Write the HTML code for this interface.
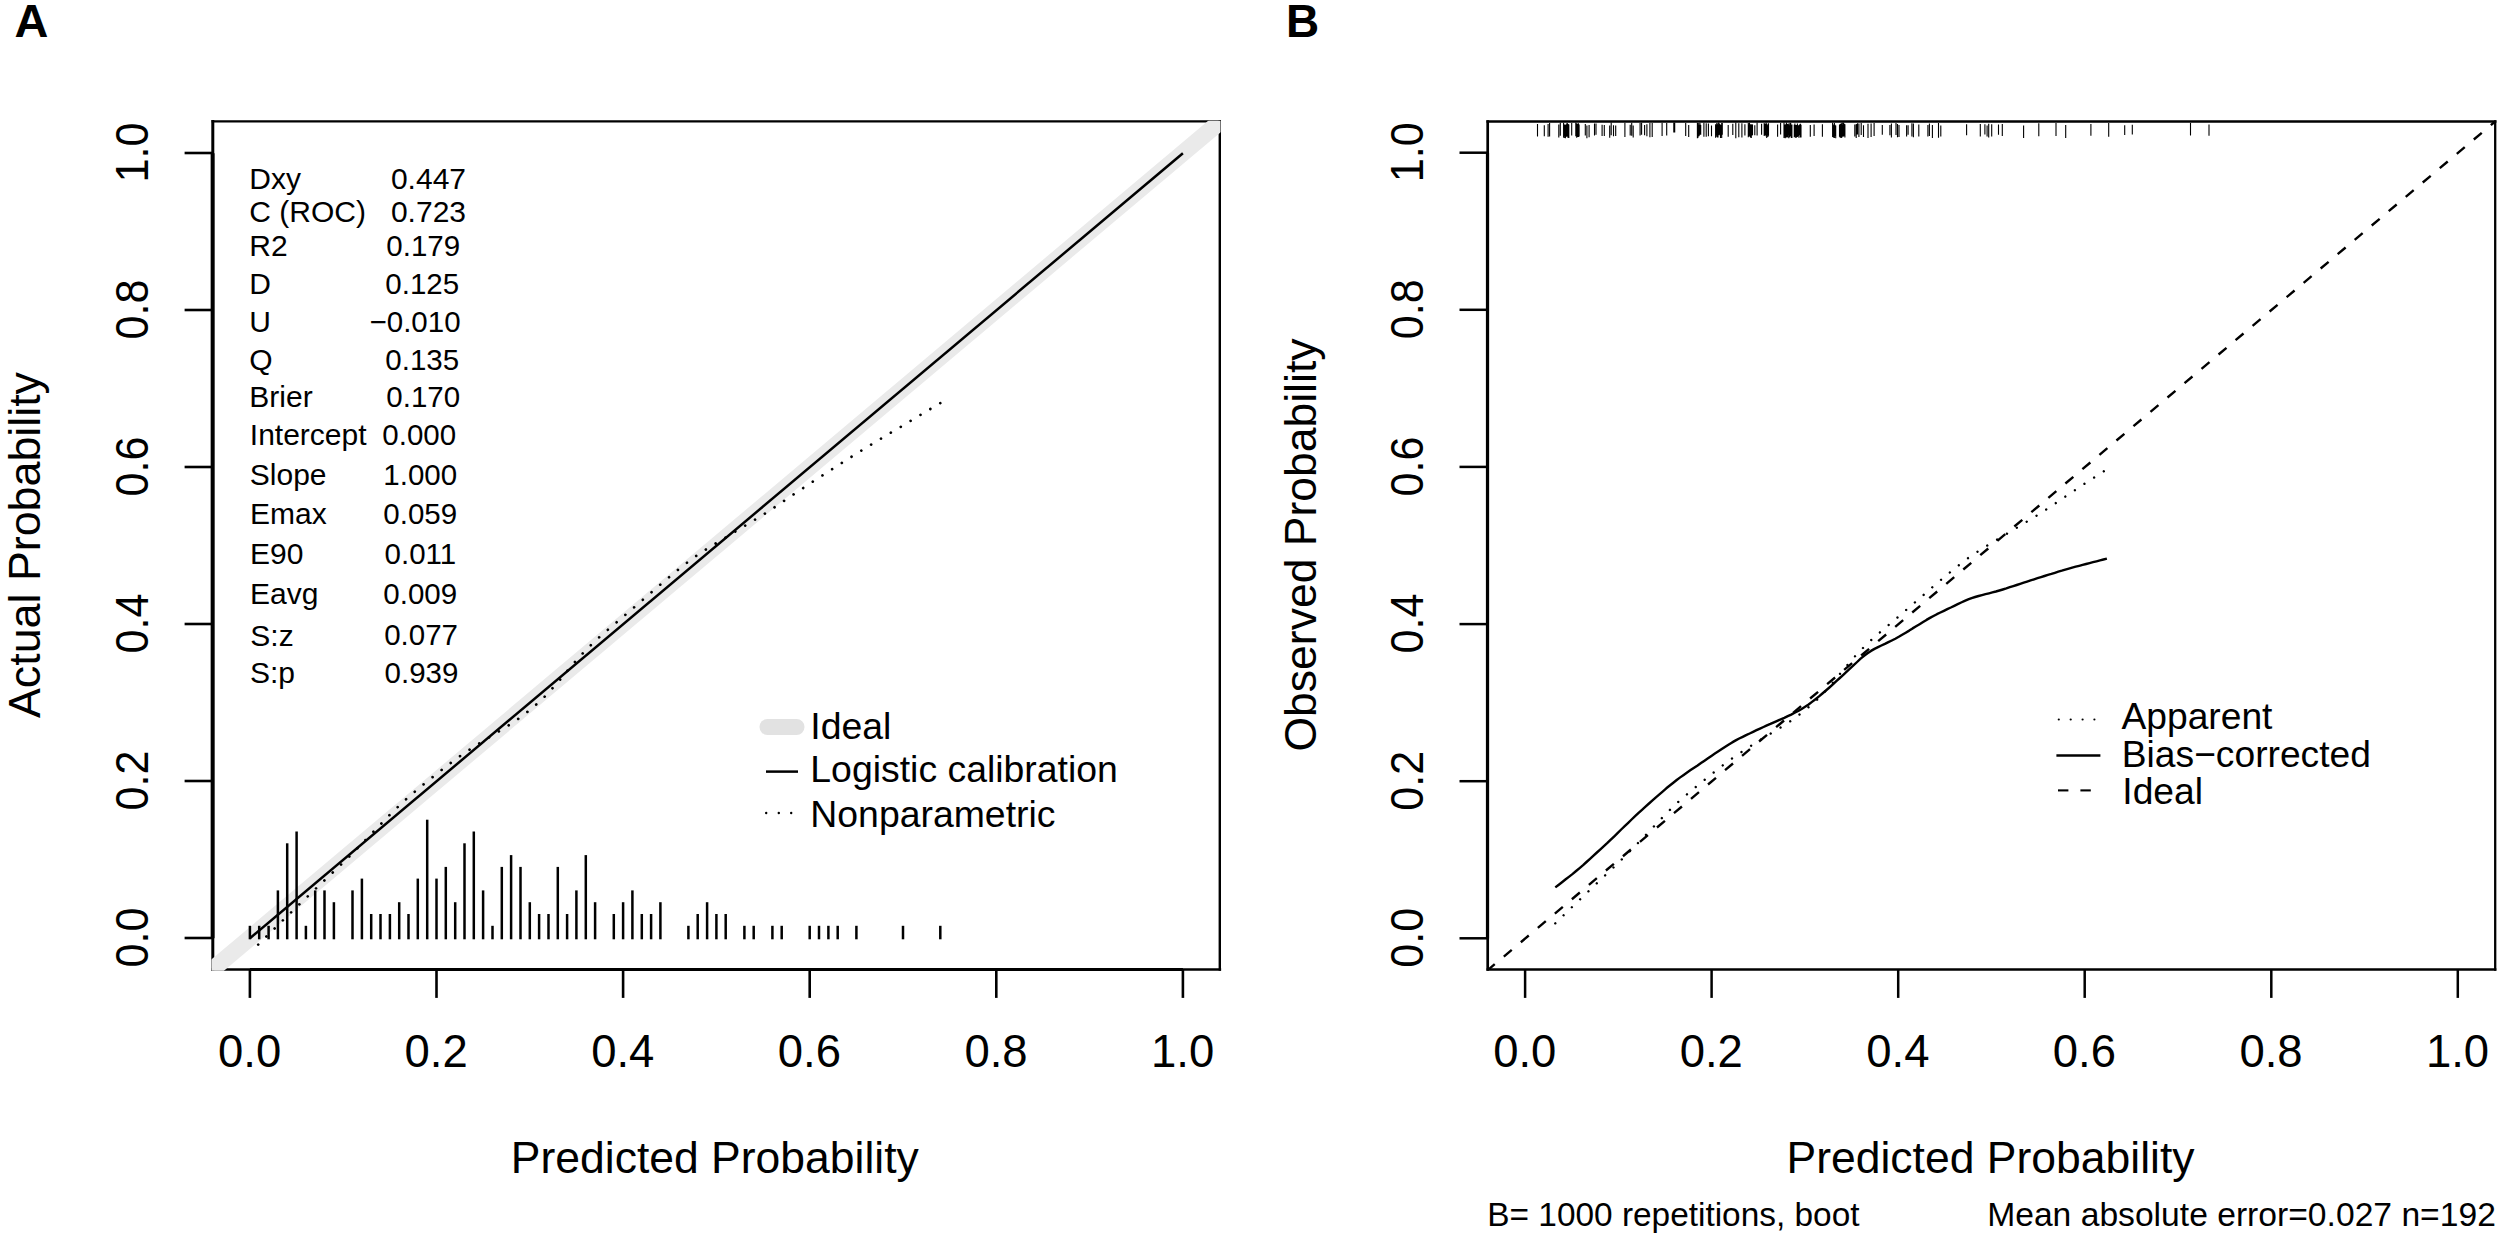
<!DOCTYPE html>
<html lang="en"><head><meta charset="utf-8"><title>Calibration curves</title>
<style>html,body{margin:0;padding:0;background:#fff}svg{display:block}</style></head>
<body>
<svg width="2500" height="1238" viewBox="0 0 2500 1238" font-family='"Liberation Sans", sans-serif' fill="#000">
<rect width="2500" height="1238" fill="#fff"/>
<clipPath id="ca"><rect x="211.5" y="120.7" width="1009.0" height="850.1"/></clipPath>
<line x1="212.8" y1="121.4" x2="1219.8" y2="121.4" stroke="#000" stroke-width="2.4" stroke-linecap="square"/>
<line x1="1219.8" y1="121.4" x2="1219.8" y2="969.5" stroke="#000" stroke-width="2.4" stroke-linecap="square"/>
<line x1="212.8" y1="121.4" x2="212.8" y2="969.5" stroke="#000" stroke-width="3.0" stroke-linecap="square"/>
<line x1="212.8" y1="969.5" x2="1219.8" y2="969.5" stroke="#000" stroke-width="2.7" stroke-linecap="square"/>
<line x1="249.9" y1="969.6" x2="1182.9" y2="969.6" stroke="#000" stroke-width="3.0" />
<line x1="212.6" y1="938.3" x2="212.6" y2="153.3" stroke="#000" stroke-width="3.9" />
<line x1="249.9" y1="969.5" x2="249.9" y2="997.9" stroke="#000" stroke-width="2.6" />
<line x1="184.6" y1="938.0" x2="212.8" y2="938.0" stroke="#000" stroke-width="2.6" />
<text x="249.6" y="1066.6" font-size="45.5" text-anchor="middle" font-weight="normal" textLength="63.2" lengthAdjust="spacingAndGlyphs" >0.0</text>
<text x="147.8" y="937.5" font-size="45.5" text-anchor="middle" font-weight="normal" transform="rotate(-90 147.8 937.5)" textLength="60.0" lengthAdjust="spacingAndGlyphs" >0.0</text>
<line x1="436.5" y1="969.5" x2="436.5" y2="997.9" stroke="#000" stroke-width="2.6" />
<line x1="184.6" y1="781.0" x2="212.8" y2="781.0" stroke="#000" stroke-width="2.6" />
<text x="436.2" y="1066.6" font-size="45.5" text-anchor="middle" font-weight="normal" textLength="63.2" lengthAdjust="spacingAndGlyphs" >0.2</text>
<text x="147.8" y="780.5" font-size="45.5" text-anchor="middle" font-weight="normal" transform="rotate(-90 147.8 780.5)" textLength="60.0" lengthAdjust="spacingAndGlyphs" >0.2</text>
<line x1="623.1" y1="969.5" x2="623.1" y2="997.9" stroke="#000" stroke-width="2.6" />
<line x1="184.6" y1="624.0" x2="212.8" y2="624.0" stroke="#000" stroke-width="2.6" />
<text x="622.8" y="1066.6" font-size="45.5" text-anchor="middle" font-weight="normal" textLength="63.2" lengthAdjust="spacingAndGlyphs" >0.4</text>
<text x="147.8" y="623.5" font-size="45.5" text-anchor="middle" font-weight="normal" transform="rotate(-90 147.8 623.5)" textLength="60.0" lengthAdjust="spacingAndGlyphs" >0.4</text>
<line x1="809.7" y1="969.5" x2="809.7" y2="997.9" stroke="#000" stroke-width="2.6" />
<line x1="184.6" y1="467.0" x2="212.8" y2="467.0" stroke="#000" stroke-width="2.6" />
<text x="809.4" y="1066.6" font-size="45.5" text-anchor="middle" font-weight="normal" textLength="63.2" lengthAdjust="spacingAndGlyphs" >0.6</text>
<text x="147.8" y="466.5" font-size="45.5" text-anchor="middle" font-weight="normal" transform="rotate(-90 147.8 466.5)" textLength="60.0" lengthAdjust="spacingAndGlyphs" >0.6</text>
<line x1="996.3" y1="969.5" x2="996.3" y2="997.9" stroke="#000" stroke-width="2.6" />
<line x1="184.6" y1="310.0" x2="212.8" y2="310.0" stroke="#000" stroke-width="2.6" />
<text x="996.0" y="1066.6" font-size="45.5" text-anchor="middle" font-weight="normal" textLength="63.2" lengthAdjust="spacingAndGlyphs" >0.8</text>
<text x="147.8" y="309.5" font-size="45.5" text-anchor="middle" font-weight="normal" transform="rotate(-90 147.8 309.5)" textLength="60.0" lengthAdjust="spacingAndGlyphs" >0.8</text>
<line x1="1182.9" y1="969.5" x2="1182.9" y2="997.9" stroke="#000" stroke-width="2.6" />
<line x1="184.6" y1="153.0" x2="212.8" y2="153.0" stroke="#000" stroke-width="2.6" />
<text x="1182.6" y="1066.6" font-size="45.5" text-anchor="middle" font-weight="normal" textLength="63.2" lengthAdjust="spacingAndGlyphs" >1.0</text>
<text x="147.8" y="152.5" font-size="45.5" text-anchor="middle" font-weight="normal" transform="rotate(-90 147.8 152.5)" textLength="60.0" lengthAdjust="spacingAndGlyphs" >1.0</text>
<g clip-path="url(#ca)">
<line x1="156.6" y1="1016.5" x2="1276.2" y2="74.5" stroke="#eaeaea" stroke-width="16.8" />
</g>
<line x1="249.9" y1="939.3" x2="249.9" y2="925.8" stroke="#000" stroke-width="2.5" />
<line x1="259.2" y1="939.3" x2="259.2" y2="925.8" stroke="#000" stroke-width="2.5" />
<line x1="268.6" y1="939.3" x2="268.6" y2="925.8" stroke="#000" stroke-width="2.5" />
<line x1="277.9" y1="939.3" x2="277.9" y2="890.4" stroke="#000" stroke-width="2.5" />
<line x1="287.2" y1="939.3" x2="287.2" y2="843.3" stroke="#000" stroke-width="2.5" />
<line x1="296.6" y1="939.3" x2="296.6" y2="831.5" stroke="#000" stroke-width="2.5" />
<line x1="305.9" y1="939.3" x2="305.9" y2="925.8" stroke="#000" stroke-width="2.5" />
<line x1="315.2" y1="939.3" x2="315.2" y2="890.4" stroke="#000" stroke-width="2.5" />
<line x1="324.5" y1="939.3" x2="324.5" y2="890.4" stroke="#000" stroke-width="2.5" />
<line x1="333.9" y1="939.3" x2="333.9" y2="902.2" stroke="#000" stroke-width="2.5" />
<line x1="352.5" y1="939.3" x2="352.5" y2="890.4" stroke="#000" stroke-width="2.5" />
<line x1="361.9" y1="939.3" x2="361.9" y2="878.6" stroke="#000" stroke-width="2.5" />
<line x1="371.2" y1="939.3" x2="371.2" y2="914.0" stroke="#000" stroke-width="2.5" />
<line x1="380.5" y1="939.3" x2="380.5" y2="914.0" stroke="#000" stroke-width="2.5" />
<line x1="389.9" y1="939.3" x2="389.9" y2="914.0" stroke="#000" stroke-width="2.5" />
<line x1="399.2" y1="939.3" x2="399.2" y2="902.2" stroke="#000" stroke-width="2.5" />
<line x1="408.5" y1="939.3" x2="408.5" y2="914.0" stroke="#000" stroke-width="2.5" />
<line x1="417.8" y1="939.3" x2="417.8" y2="878.6" stroke="#000" stroke-width="2.5" />
<line x1="427.2" y1="939.3" x2="427.2" y2="819.7" stroke="#000" stroke-width="2.5" />
<line x1="436.5" y1="939.3" x2="436.5" y2="878.6" stroke="#000" stroke-width="2.5" />
<line x1="445.8" y1="939.3" x2="445.8" y2="866.9" stroke="#000" stroke-width="2.5" />
<line x1="455.2" y1="939.3" x2="455.2" y2="902.2" stroke="#000" stroke-width="2.5" />
<line x1="464.5" y1="939.3" x2="464.5" y2="843.3" stroke="#000" stroke-width="2.5" />
<line x1="473.8" y1="939.3" x2="473.8" y2="831.5" stroke="#000" stroke-width="2.5" />
<line x1="483.1" y1="939.3" x2="483.1" y2="890.4" stroke="#000" stroke-width="2.5" />
<line x1="492.5" y1="939.3" x2="492.5" y2="925.8" stroke="#000" stroke-width="2.5" />
<line x1="501.8" y1="939.3" x2="501.8" y2="866.9" stroke="#000" stroke-width="2.5" />
<line x1="511.1" y1="939.3" x2="511.1" y2="855.1" stroke="#000" stroke-width="2.5" />
<line x1="520.5" y1="939.3" x2="520.5" y2="866.9" stroke="#000" stroke-width="2.5" />
<line x1="529.8" y1="939.3" x2="529.8" y2="902.2" stroke="#000" stroke-width="2.5" />
<line x1="539.1" y1="939.3" x2="539.1" y2="914.0" stroke="#000" stroke-width="2.5" />
<line x1="548.5" y1="939.3" x2="548.5" y2="914.0" stroke="#000" stroke-width="2.5" />
<line x1="557.8" y1="939.3" x2="557.8" y2="866.9" stroke="#000" stroke-width="2.5" />
<line x1="567.1" y1="939.3" x2="567.1" y2="914.0" stroke="#000" stroke-width="2.5" />
<line x1="576.4" y1="939.3" x2="576.4" y2="890.4" stroke="#000" stroke-width="2.5" />
<line x1="585.8" y1="939.3" x2="585.8" y2="855.1" stroke="#000" stroke-width="2.5" />
<line x1="595.1" y1="939.3" x2="595.1" y2="902.2" stroke="#000" stroke-width="2.5" />
<line x1="613.8" y1="939.3" x2="613.8" y2="914.0" stroke="#000" stroke-width="2.5" />
<line x1="623.1" y1="939.3" x2="623.1" y2="902.2" stroke="#000" stroke-width="2.5" />
<line x1="632.4" y1="939.3" x2="632.4" y2="890.4" stroke="#000" stroke-width="2.5" />
<line x1="641.8" y1="939.3" x2="641.8" y2="914.0" stroke="#000" stroke-width="2.5" />
<line x1="651.1" y1="939.3" x2="651.1" y2="914.0" stroke="#000" stroke-width="2.5" />
<line x1="660.4" y1="939.3" x2="660.4" y2="902.2" stroke="#000" stroke-width="2.5" />
<line x1="688.4" y1="939.3" x2="688.4" y2="925.8" stroke="#000" stroke-width="2.5" />
<line x1="697.7" y1="939.3" x2="697.7" y2="914.0" stroke="#000" stroke-width="2.5" />
<line x1="707.1" y1="939.3" x2="707.1" y2="902.2" stroke="#000" stroke-width="2.5" />
<line x1="716.4" y1="939.3" x2="716.4" y2="914.0" stroke="#000" stroke-width="2.5" />
<line x1="725.7" y1="939.3" x2="725.7" y2="914.0" stroke="#000" stroke-width="2.5" />
<line x1="744.4" y1="939.3" x2="744.4" y2="925.8" stroke="#000" stroke-width="2.5" />
<line x1="753.7" y1="939.3" x2="753.7" y2="925.8" stroke="#000" stroke-width="2.5" />
<line x1="772.4" y1="939.3" x2="772.4" y2="925.8" stroke="#000" stroke-width="2.5" />
<line x1="781.7" y1="939.3" x2="781.7" y2="925.8" stroke="#000" stroke-width="2.5" />
<line x1="809.7" y1="939.3" x2="809.7" y2="925.8" stroke="#000" stroke-width="2.5" />
<line x1="819.0" y1="939.3" x2="819.0" y2="925.8" stroke="#000" stroke-width="2.5" />
<line x1="828.4" y1="939.3" x2="828.4" y2="925.8" stroke="#000" stroke-width="2.5" />
<line x1="837.7" y1="939.3" x2="837.7" y2="925.8" stroke="#000" stroke-width="2.5" />
<line x1="856.4" y1="939.3" x2="856.4" y2="925.8" stroke="#000" stroke-width="2.5" />
<line x1="903.0" y1="939.3" x2="903.0" y2="925.8" stroke="#000" stroke-width="2.5" />
<line x1="940.3" y1="939.3" x2="940.3" y2="925.8" stroke="#000" stroke-width="2.5" />
<line x1="249.9" y1="938.3" x2="1182.9" y2="153.3" stroke="#000" stroke-width="2.5" />
<path d="M258.2,944.6 L262.5,940.3 L266.8,936.1 L271.1,931.9 L275.4,927.7 L279.7,923.5 L284.0,919.3 L288.3,915.1 L292.6,910.9 L296.9,906.7 L301.3,902.6 L305.6,898.4 L309.9,894.3 L314.2,890.2 L318.5,886.0 L322.8,881.9 L327.1,877.9 L331.4,873.8 L335.7,869.7 L340.0,865.6 L344.3,861.4 L348.6,857.2 L352.9,852.9 L357.2,848.5 L361.5,844.1 L365.8,839.7 L370.1,835.2 L374.4,830.8 L378.7,826.3 L383.0,821.8 L387.3,817.3 L391.6,813.0 L396.0,808.7 L400.3,804.6 L404.6,800.6 L408.9,796.7 L413.2,793.0 L417.5,789.4 L421.8,785.8 L426.1,782.3 L430.4,778.9 L434.7,775.4 L439.0,772.0 L443.3,768.6 L447.6,765.3 L451.9,762.1 L456.2,758.9 L460.5,755.8 L464.8,752.9 L469.1,750.0 L473.4,747.2 L477.7,744.5 L482.0,741.7 L486.4,739.0 L490.7,736.4 L495.0,733.8 L499.3,731.2 L503.6,728.5 L507.9,725.8 L512.2,723.0 L516.5,720.1 L520.8,717.0 L525.1,713.7 L529.4,710.3 L533.7,706.7 L538.0,703.0 L542.3,699.1 L546.6,694.7 L550.9,690.0 L555.2,685.2 L559.5,680.3 L563.8,675.1 L568.1,670.0 L572.4,664.8 L576.8,659.9 L581.1,655.1 L585.4,650.6 L589.7,646.3 L594.0,642.1 L598.3,638.1 L602.6,634.3 L606.9,630.6 L611.2,626.9 L615.5,623.3 L619.8,619.6 L624.1,615.9 L628.4,612.3 L632.7,608.6 L637.0,604.8 L641.3,601.1 L645.6,597.4 L649.9,593.6 L654.2,589.9 L658.5,586.2 L662.8,582.5 L667.2,578.8 L671.5,575.2 L675.8,571.6 L680.1,568.1 L684.4,564.7 L688.7,561.4 L693.0,558.2 L697.3,555.2 L701.6,552.3 L705.9,549.5 L710.2,546.8 L714.5,544.2 L718.8,541.6 L723.1,539.0 L727.4,536.4 L731.7,533.7 L736.0,531.1 L740.3,528.5 L744.6,525.9 L748.9,523.4 L753.2,520.8 L757.5,518.1 L761.9,515.5 L766.2,512.7 L770.5,510.0 L774.8,507.1 L779.1,504.3 L783.4,501.3 L787.7,498.4 L792.0,495.5 L796.3,492.6 L800.6,489.7 L804.9,486.9 L809.2,484.1 L813.5,481.2 L817.8,478.4 L822.1,475.7 L826.4,472.9 L830.7,470.1 L835.0,467.4 L839.3,464.6 L843.6,461.8 L847.9,459.0 L852.3,456.3 L856.6,453.6 L860.9,450.9 L865.2,448.2 L869.5,445.6 L873.8,442.9 L878.1,440.4 L882.4,437.8 L886.7,435.2 L891.0,432.6 L895.3,430.0 L899.6,427.5 L903.9,424.9 L908.2,422.3 L912.5,419.7 L916.8,417.1 L921.1,414.6 L925.4,412.0 L929.7,409.4 L934.0,406.8 L938.3,404.3 L942.7,401.7" fill="none" stroke="#000" stroke-width="2.7" stroke-linecap="round" stroke-dasharray="0.01 11.51"/>
<text x="714.8" y="1173.0" font-size="44" text-anchor="middle" font-weight="normal" textLength="408.0" lengthAdjust="spacingAndGlyphs" >Predicted Probability</text>
<text x="40.2" y="545.0" font-size="44" text-anchor="middle" font-weight="normal" transform="rotate(-90 40.2 545.0)" textLength="346.0" lengthAdjust="spacingAndGlyphs" >Actual Probability</text>
<text x="14.6" y="37.3" font-size="46" text-anchor="start" font-weight="bold" textLength="33.9" lengthAdjust="spacingAndGlyphs" >A</text>
<text x="249.3" y="189.3" font-size="30" text-anchor="start" font-weight="normal" >Dxy</text>
<text x="466.0" y="189.3" font-size="30" text-anchor="end" font-weight="normal" >0.447</text>
<text x="249.3" y="222.0" font-size="30" text-anchor="start" font-weight="normal" >C (ROC)</text>
<text x="466.0" y="222.0" font-size="30" text-anchor="end" font-weight="normal" >0.723</text>
<text x="249.3" y="255.6" font-size="30" text-anchor="start" font-weight="normal" >R2</text>
<text x="460.2" y="255.6" font-size="29.5" text-anchor="end" font-weight="normal" >0.179</text>
<text x="249.3" y="293.5" font-size="30" text-anchor="start" font-weight="normal" >D</text>
<text x="459.2" y="293.5" font-size="29.5" text-anchor="end" font-weight="normal" >0.125</text>
<text x="249.3" y="332.0" font-size="30" text-anchor="start" font-weight="normal" >U</text>
<text x="460.6" y="332.0" font-size="29.5" text-anchor="end" font-weight="normal" >−0.010</text>
<text x="249.3" y="369.6" font-size="30" text-anchor="start" font-weight="normal" >Q</text>
<text x="459.2" y="369.6" font-size="29.5" text-anchor="end" font-weight="normal" >0.135</text>
<text x="249.3" y="406.8" font-size="30" text-anchor="start" font-weight="normal" >Brier</text>
<text x="460.2" y="406.8" font-size="29.5" text-anchor="end" font-weight="normal" >0.170</text>
<text x="249.8" y="444.7" font-size="30" text-anchor="start" font-weight="normal" >Intercept</text>
<text x="456.2" y="444.7" font-size="29.5" text-anchor="end" font-weight="normal" >0.000</text>
<text x="249.8" y="484.5" font-size="30" text-anchor="start" font-weight="normal" >Slope</text>
<text x="457.2" y="484.5" font-size="29.5" text-anchor="end" font-weight="normal" >1.000</text>
<text x="250.0" y="524.3" font-size="30" text-anchor="start" font-weight="normal" >Emax</text>
<text x="457.2" y="524.3" font-size="29.5" text-anchor="end" font-weight="normal" >0.059</text>
<text x="250.0" y="564.3" font-size="30" text-anchor="start" font-weight="normal" >E90</text>
<text x="456.2" y="564.3" font-size="29.5" text-anchor="end" font-weight="normal" >0.011</text>
<text x="250.0" y="604.0" font-size="30" text-anchor="start" font-weight="normal" >Eavg</text>
<text x="457.2" y="604.0" font-size="29.5" text-anchor="end" font-weight="normal" >0.009</text>
<text x="250.3" y="645.7" font-size="30" text-anchor="start" font-weight="normal" >S:z</text>
<text x="458.0" y="644.9" font-size="29.5" text-anchor="end" font-weight="normal" >0.077</text>
<text x="250.0" y="683.0" font-size="30" text-anchor="start" font-weight="normal" >S:p</text>
<text x="458.4" y="683.0" font-size="29.5" text-anchor="end" font-weight="normal" >0.939</text>
<line x1="767.5" y1="727.0" x2="796.5" y2="727.0" stroke="#e2e2e2" stroke-width="16" stroke-linecap="round"/>
<text x="810.3" y="739.3" font-size="37.400000000000006" text-anchor="start" font-weight="normal" >Ideal</text>
<line x1="766.0" y1="771.6" x2="798.0" y2="771.6" stroke="#000" stroke-width="2.5" />
<text x="810.3" y="782.1" font-size="37.400000000000006" text-anchor="start" font-weight="normal" >Logistic calibration</text>
<circle cx="766.2" cy="813" r="1.2"/>
<circle cx="778.8" cy="813" r="1.2"/>
<circle cx="791.2" cy="813" r="1.2"/>
<text x="810.3" y="826.6" font-size="37.400000000000006" text-anchor="start" font-weight="normal" >Nonparametric</text>
<clipPath id="cb"><rect x="1487.7" y="121.5" width="1007.5" height="848.0"/></clipPath>
<g clip-path="url(#cb)">
<line x1="1431.8" y1="1017.2" x2="2551.1" y2="74.4" stroke="#000" stroke-width="2.4" stroke-dasharray="10.4 11.85" stroke-dashoffset="17.1"/>
</g>
<path d="M1555.3,923.3 L1558.8,919.9 L1562.2,916.6 L1565.7,913.2 L1569.2,909.9 L1572.6,906.5 L1576.1,903.2 L1579.6,899.8 L1583.0,896.5 L1586.5,893.2 L1590.0,889.8 L1593.4,886.5 L1596.9,883.2 L1600.4,879.9 L1603.8,876.6 L1607.3,873.4 L1610.8,870.1 L1614.2,866.8 L1617.7,863.5 L1621.1,860.1 L1624.6,856.7 L1628.1,853.2 L1631.5,849.6 L1635.0,846.1 L1638.5,842.5 L1641.9,839.0 L1645.4,835.4 L1648.9,831.8 L1652.3,828.1 L1655.8,824.5 L1659.3,820.9 L1662.7,817.2 L1666.2,813.7 L1669.6,810.2 L1673.1,806.8 L1676.6,803.5 L1680.0,800.3 L1683.5,797.2 L1687.0,794.3 L1690.4,791.3 L1693.9,788.5 L1697.4,785.6 L1700.8,782.8 L1704.3,780.0 L1707.8,777.3 L1711.2,774.5 L1714.7,771.7 L1718.2,768.9 L1721.6,766.2 L1725.1,763.6 L1728.5,761.0 L1732.0,758.5 L1735.5,756.1 L1738.9,753.7 L1742.4,751.4 L1745.9,749.1 L1749.3,746.8 L1752.8,744.6 L1756.3,742.4 L1759.7,740.3 L1763.2,738.1 L1766.7,736.0 L1770.1,733.9 L1773.6,731.8 L1777.0,729.7 L1780.5,727.6 L1784.0,725.4 L1787.4,723.2 L1790.9,720.9 L1794.4,718.4 L1797.8,715.8 L1801.3,713.1 L1804.8,710.4 L1808.2,707.5 L1811.7,704.5 L1815.2,701.4 L1818.6,698.2 L1822.1,694.8 L1825.5,691.0 L1829.0,687.1 L1832.5,683.1 L1835.9,678.9 L1839.4,674.6 L1842.9,670.3 L1846.3,666.2 L1849.8,662.2 L1853.3,658.3 L1856.7,654.4 L1860.2,650.8 L1863.7,647.3 L1867.1,643.9 L1870.6,640.6 L1874.1,637.5 L1877.5,634.4 L1881.0,631.5 L1884.4,628.6 L1887.9,625.6 L1891.4,622.7 L1894.8,619.7 L1898.3,616.8 L1901.8,613.8 L1905.2,610.8 L1908.7,607.8 L1912.2,604.8 L1915.6,601.8 L1919.1,598.8 L1922.6,595.8 L1926.0,592.8 L1929.5,589.8 L1932.9,586.7 L1936.4,583.7 L1939.9,580.8 L1943.3,577.8 L1946.8,574.9 L1950.3,572.1 L1953.7,569.2 L1957.2,566.5 L1960.7,563.7 L1964.1,561.0 L1967.6,558.4 L1971.1,555.9 L1974.5,553.6 L1978.0,551.3 L1981.5,549.1 L1984.9,547.0 L1988.4,544.9 L1991.8,542.8 L1995.3,540.7 L1998.8,538.6 L2002.2,536.5 L2005.7,534.4 L2009.2,532.3 L2012.6,530.2 L2016.1,528.1 L2019.6,526.0 L2023.0,523.9 L2026.5,521.8 L2030.0,519.8 L2033.4,517.6 L2036.9,515.5 L2040.3,513.3 L2043.8,511.1 L2047.3,508.8 L2050.7,506.5 L2054.2,504.2 L2057.7,501.8 L2061.1,499.5 L2064.6,497.1 L2068.1,494.7 L2071.5,492.4 L2075.0,490.1 L2078.5,487.8 L2081.9,485.5 L2085.4,483.2 L2088.8,481.0 L2092.3,478.7 L2095.8,476.5 L2099.2,474.3 L2102.7,472.0 L2106.2,469.8" fill="none" stroke="#000" stroke-width="2.4" stroke-linecap="round" stroke-dasharray="0.01 11.51"/>
<path d="M1555.3,887.4 L1558.8,884.7 L1562.3,882.0 L1565.7,879.3 L1569.2,876.6 L1572.7,873.9 L1576.1,871.0 L1579.6,868.1 L1583.1,865.1 L1586.5,862.0 L1590.0,858.8 L1593.5,855.6 L1596.9,852.5 L1600.4,849.3 L1603.9,846.1 L1607.4,842.9 L1610.8,839.6 L1614.3,836.3 L1617.8,832.9 L1621.2,829.5 L1624.7,826.2 L1628.2,822.8 L1631.6,819.5 L1635.1,816.2 L1638.6,812.9 L1642.0,809.8 L1645.5,806.6 L1649.0,803.5 L1652.5,800.4 L1655.9,797.3 L1659.4,794.3 L1662.9,791.3 L1666.3,788.3 L1669.8,785.5 L1673.3,782.7 L1676.7,780.0 L1680.2,777.4 L1683.7,774.9 L1687.1,772.5 L1690.6,770.1 L1694.1,767.8 L1697.6,765.5 L1701.0,763.1 L1704.5,760.7 L1708.0,758.3 L1711.4,755.9 L1714.9,753.6 L1718.4,751.3 L1721.8,749.0 L1725.3,746.7 L1728.8,744.5 L1732.2,742.4 L1735.7,740.4 L1739.2,738.5 L1742.7,736.8 L1746.1,735.1 L1749.6,733.5 L1753.1,731.8 L1756.5,730.2 L1760.0,728.6 L1763.5,727.0 L1766.9,725.4 L1770.4,723.9 L1773.9,722.3 L1777.3,720.8 L1780.8,719.3 L1784.3,717.8 L1787.8,716.2 L1791.2,714.6 L1794.7,712.8 L1798.2,711.0 L1801.6,709.0 L1805.1,706.8 L1808.6,704.5 L1812.0,701.9 L1815.5,699.2 L1819.0,696.4 L1822.4,693.5 L1825.9,690.5 L1829.4,687.5 L1832.9,684.4 L1836.3,681.2 L1839.8,678.0 L1843.3,674.8 L1846.7,671.6 L1850.2,668.4 L1853.7,665.2 L1857.1,662.0 L1860.6,658.7 L1864.1,655.8 L1867.5,653.2 L1871.0,650.9 L1874.5,648.9 L1878.0,647.2 L1881.4,645.5 L1884.9,643.9 L1888.4,642.2 L1891.8,640.5 L1895.3,638.7 L1898.8,636.8 L1902.2,634.8 L1905.7,632.7 L1909.2,630.6 L1912.6,628.4 L1916.1,626.3 L1919.6,624.2 L1923.1,622.0 L1926.5,619.9 L1930.0,617.9 L1933.5,616.0 L1936.9,614.2 L1940.4,612.5 L1943.9,610.8 L1947.3,609.1 L1950.8,607.5 L1954.3,605.8 L1957.7,604.2 L1961.2,602.5 L1964.7,600.9 L1968.2,599.4 L1971.6,598.1 L1975.1,597.0 L1978.6,596.0 L1982.0,595.1 L1985.5,594.2 L1989.0,593.3 L1992.4,592.4 L1995.9,591.5 L1999.4,590.5 L2002.8,589.5 L2006.3,588.4 L2009.8,587.2 L2013.3,586.1 L2016.7,585.0 L2020.2,583.8 L2023.7,582.7 L2027.1,581.6 L2030.6,580.4 L2034.1,579.3 L2037.5,578.2 L2041.0,577.1 L2044.5,576.0 L2047.9,574.9 L2051.4,573.9 L2054.9,572.8 L2058.3,571.7 L2061.8,570.7 L2065.3,569.6 L2068.8,568.6 L2072.2,567.6 L2075.7,566.7 L2079.2,565.8 L2082.6,564.9 L2086.1,564.0 L2089.6,563.1 L2093.0,562.2 L2096.5,561.3 L2100.0,560.4 L2103.4,559.5 L2106.9,558.6" fill="none" stroke="#000" stroke-width="2.4" stroke-linejoin="round"/>
<path d="M1537.5,123.9V136.6M1544.3,125.3V136.3M1548.1,124.0V136.7M1549.6,123.1V136.4M1558.8,124.4V137.5M1560.3,122.8V135.7M1563.6,122.8V137.6M1564.5,124.6V134.7M1565.4,125.4V138.2M1566.4,124.5V136.8M1567.3,123.0V134.6M1568.2,124.1V134.7M1571.7,123.1V135.4M1575.8,122.6V136.3M1576.7,123.8V137.7M1577.6,124.1V136.9M1578.5,124.0V137.0M1585.3,123.9V135.6M1586.9,125.5V138.3M1589.1,125.0V137.2M1594.5,123.4V135.4M1596.0,123.4V134.8M1602.1,124.8V136.0M1604.3,125.0V136.0M1609.7,125.4V137.7M1611.2,122.5V135.3M1613.5,125.2V136.3M1615.7,125.4V136.0M1624.9,122.7V136.9M1630.2,124.8V135.5M1631.7,122.8V135.8M1633.2,125.4V137.4M1640.1,122.9V135.4M1641.6,122.8V134.7M1644.6,124.9V135.2M1646.9,124.2V136.2M1649.9,123.1V137.3M1652.2,122.9V136.9M1662.1,122.8V136.1M1666.7,123.1V135.5M1673.8,122.5V132.5M1674.7,122.5V132.5M1685.7,123.1V136.0M1688.7,125.1V136.9M1697.4,122.8V138.3M1698.3,123.1V135.5M1699.2,124.8V135.8M1700.1,123.4V134.8M1703.9,122.8V136.7M1706.2,123.2V136.8M1708.4,123.6V136.2M1711.5,125.4V136.3M1715.6,124.2V137.8M1716.8,123.0V135.1M1718.0,125.2V137.6M1719.2,123.2V135.2M1720.5,124.7V138.1M1721.7,123.1V138.1M1728.2,125.1V136.8M1732.8,123.8V134.9M1735.8,122.6V138.2M1738.8,123.2V137.2M1741.9,123.3V137.6M1744.9,124.3V135.6M1748.3,123.0V137.2M1749.5,122.7V135.4M1750.7,124.2V137.7M1751.9,124.3V135.6M1754.8,125.3V135.3M1757.1,122.5V135.5M1761.6,123.8V134.7M1764.2,123.0V135.9M1765.4,124.2V135.0M1766.7,123.6V137.9M1767.9,125.4V137.0M1777.6,124.6V136.7M1780.6,122.9V134.6M1784.0,122.6V138.0M1785.2,124.6V138.2M1786.4,122.6V136.9M1787.6,123.9V137.3M1788.8,123.5V138.3M1790.1,122.7V136.6M1791.3,124.7V137.9M1794.3,124.7V137.2M1795.8,124.9V138.0M1797.4,123.6V137.1M1798.9,125.2V137.8M1800.4,123.8V137.5M1810.3,125.1V136.7M1814.1,124.4V136.0M1822.4,124.2V136.8M1832.6,122.7V136.9M1833.8,125.5V137.8M1835.0,124.7V136.0M1839.5,124.7V136.7M1840.7,123.8V137.7M1841.9,122.8V137.4M1843.1,122.6V136.8M1844.3,123.9V135.4M1854.8,124.6V136.4M1856.2,124.3V138.0M1857.5,123.3V134.5M1858.9,123.4V137.1M1861.2,123.1V135.1M1863.5,125.2V137.0M1868.0,123.8V137.9M1871.1,123.5V137.0M1874.1,123.1V136.1M1564.2,124.9V138.0M1565.1,125.1V136.0M1566.0,124.2V135.7M1567.0,122.9V136.4M1567.9,125.0V137.7M1568.8,124.6V138.1M1576.4,123.3V135.1M1577.3,123.9V135.5M1578.2,123.1V136.1M1579.1,124.4V136.4M1698.0,123.4V137.7M1698.9,125.4V136.2M1699.8,122.7V134.6M1700.7,125.1V134.7M1716.2,124.6V136.7M1717.4,123.4V137.5M1718.6,122.6V135.0M1719.8,123.9V134.6M1721.1,125.0V135.4M1722.3,122.9V134.7M1748.9,124.4V136.2M1750.1,124.4V137.0M1751.3,124.9V138.1M1752.5,124.6V135.3M1764.8,123.9V135.2M1766.0,122.5V136.3M1767.3,124.6V135.2M1768.5,123.3V135.8M1784.6,124.6V136.5M1785.8,124.3V137.4M1787.0,123.7V137.5M1788.2,125.2V134.8M1789.5,125.3V137.2M1790.7,122.9V136.2M1791.9,124.4V138.0M1794.9,123.6V136.7M1796.4,125.1V137.5M1798.0,125.3V136.3M1799.5,124.5V135.3M1801.0,124.7V137.6M1833.2,124.4V137.2M1834.4,123.1V137.9M1835.7,125.4V138.2M1840.1,124.1V137.5M1841.3,123.5V138.0M1842.5,125.1V135.8M1843.7,122.7V136.2M1844.9,124.2V137.4M1856.8,124.0V134.6M1882.3,124.9V134.7M1889.9,124.9V135.2M1891.4,123.5V137.5M1896.0,122.9V135.1M1897.5,124.0V137.2M1899.0,125.0V137.1M1906.6,125.3V136.4M1908.1,125.3V134.8M1911.9,123.2V136.5M1913.4,123.4V137.3M1918.8,124.4V136.5M1927.9,125.0V136.6M1929.4,123.4V135.9M1932.4,125.0V137.9M1938.5,123.1V137.7M1940.8,125.4V136.5M1966.6,124.2V135.3M1980.3,124.1V136.4M1984.9,124.3V134.6M1987.1,125.4V136.5M1988.7,123.7V137.5M1991.7,124.2V136.4M1998.5,124.6V134.8M2002.3,124.1V136.1M2023.6,125.4V138.0M2038.8,123.3V136.3M2056.0,122.9V136.1M2065.7,124.9V137.9M2090.9,123.9V135.7M2108.7,123.1V136.8M2124.7,125.3V135.0M2132.3,124.8V134.6M2190.5,123.1V135.4M2209.0,124.6V135.7" stroke="#000" stroke-width="1.1" fill="none"/>
<line x1="1487.7" y1="121.5" x2="2495.2" y2="121.5" stroke="#000" stroke-width="2.5" stroke-linecap="square"/>
<line x1="2495.2" y1="121.5" x2="2495.2" y2="969.5" stroke="#000" stroke-width="2.3" stroke-linecap="square"/>
<line x1="1487.7" y1="121.5" x2="1487.7" y2="969.5" stroke="#000" stroke-width="2.7" stroke-linecap="square"/>
<line x1="1487.7" y1="969.5" x2="2495.2" y2="969.5" stroke="#000" stroke-width="2.3" stroke-linecap="square"/>
<line x1="1487.5" y1="938.6" x2="1487.5" y2="153.0" stroke="#000" stroke-width="3.2" />
<line x1="1525.1" y1="969.5" x2="1525.1" y2="997.9" stroke="#000" stroke-width="2.5" />
<line x1="1459.5" y1="938.3" x2="1487.7" y2="938.3" stroke="#000" stroke-width="2.5" />
<text x="1524.8" y="1066.6" font-size="45.5" text-anchor="middle" font-weight="normal" textLength="63.2" lengthAdjust="spacingAndGlyphs" >0.0</text>
<text x="1422.7" y="937.8" font-size="45.5" text-anchor="middle" font-weight="normal" transform="rotate(-90 1422.7 937.8)" textLength="60.0" lengthAdjust="spacingAndGlyphs" >0.0</text>
<line x1="1711.6" y1="969.5" x2="1711.6" y2="997.9" stroke="#000" stroke-width="2.5" />
<line x1="1459.5" y1="781.2" x2="1487.7" y2="781.2" stroke="#000" stroke-width="2.5" />
<text x="1711.3" y="1066.6" font-size="45.5" text-anchor="middle" font-weight="normal" textLength="63.2" lengthAdjust="spacingAndGlyphs" >0.2</text>
<text x="1422.7" y="780.7" font-size="45.5" text-anchor="middle" font-weight="normal" transform="rotate(-90 1422.7 780.7)" textLength="60.0" lengthAdjust="spacingAndGlyphs" >0.2</text>
<line x1="1898.2" y1="969.5" x2="1898.2" y2="997.9" stroke="#000" stroke-width="2.5" />
<line x1="1459.5" y1="624.1" x2="1487.7" y2="624.1" stroke="#000" stroke-width="2.5" />
<text x="1897.9" y="1066.6" font-size="45.5" text-anchor="middle" font-weight="normal" textLength="63.2" lengthAdjust="spacingAndGlyphs" >0.4</text>
<text x="1422.7" y="623.6" font-size="45.5" text-anchor="middle" font-weight="normal" transform="rotate(-90 1422.7 623.6)" textLength="60.0" lengthAdjust="spacingAndGlyphs" >0.4</text>
<line x1="2084.7" y1="969.5" x2="2084.7" y2="997.9" stroke="#000" stroke-width="2.5" />
<line x1="1459.5" y1="466.9" x2="1487.7" y2="466.9" stroke="#000" stroke-width="2.5" />
<text x="2084.4" y="1066.6" font-size="45.5" text-anchor="middle" font-weight="normal" textLength="63.2" lengthAdjust="spacingAndGlyphs" >0.6</text>
<text x="1422.7" y="466.4" font-size="45.5" text-anchor="middle" font-weight="normal" transform="rotate(-90 1422.7 466.4)" textLength="60.0" lengthAdjust="spacingAndGlyphs" >0.6</text>
<line x1="2271.3" y1="969.5" x2="2271.3" y2="997.9" stroke="#000" stroke-width="2.5" />
<line x1="1459.5" y1="309.8" x2="1487.7" y2="309.8" stroke="#000" stroke-width="2.5" />
<text x="2271.0" y="1066.6" font-size="45.5" text-anchor="middle" font-weight="normal" textLength="63.2" lengthAdjust="spacingAndGlyphs" >0.8</text>
<text x="1422.7" y="309.3" font-size="45.5" text-anchor="middle" font-weight="normal" transform="rotate(-90 1422.7 309.3)" textLength="60.0" lengthAdjust="spacingAndGlyphs" >0.8</text>
<line x1="2457.8" y1="969.5" x2="2457.8" y2="997.9" stroke="#000" stroke-width="2.5" />
<line x1="1459.5" y1="152.7" x2="1487.7" y2="152.7" stroke="#000" stroke-width="2.5" />
<text x="2457.5" y="1066.6" font-size="45.5" text-anchor="middle" font-weight="normal" textLength="63.2" lengthAdjust="spacingAndGlyphs" >1.0</text>
<text x="1422.7" y="152.2" font-size="45.5" text-anchor="middle" font-weight="normal" transform="rotate(-90 1422.7 152.2)" textLength="60.0" lengthAdjust="spacingAndGlyphs" >1.0</text>
<text x="1990.5" y="1173.0" font-size="44" text-anchor="middle" font-weight="normal" textLength="408.0" lengthAdjust="spacingAndGlyphs" >Predicted Probability</text>
<text x="1316.2" y="545.0" font-size="44" text-anchor="middle" font-weight="normal" transform="rotate(-90 1316.2 545.0)" textLength="413.0" lengthAdjust="spacingAndGlyphs" >Observed Probability</text>
<text x="1286.0" y="37.3" font-size="46" text-anchor="start" font-weight="bold" >B</text>
<text x="1487.3" y="1225.5" font-size="33.4" text-anchor="start" font-weight="normal" >B= 1000 repetitions, boot</text>
<text x="2495.9" y="1225.5" font-size="33.65" text-anchor="end" font-weight="normal" >Mean absolute error=0.027 n=192</text>
<circle cx="2058.8" cy="719.5" r="1.1"/>
<circle cx="2070.7" cy="719.5" r="1.1"/>
<circle cx="2082.6" cy="719.5" r="1.1"/>
<circle cx="2094.4" cy="719.5" r="1.1"/>
<text x="2121.5" y="729.1" font-size="37.2" text-anchor="start" font-weight="normal" >Apparent</text>
<line x1="2056.4" y1="755.5" x2="2100.4" y2="755.5" stroke="#000" stroke-width="2.3" />
<text x="2121.8" y="767.2" font-size="37.2" text-anchor="start" font-weight="normal" >Bias−corrected</text>
<line x1="2058.0" y1="790.4" x2="2068.4" y2="790.4" stroke="#000" stroke-width="2.1" />
<line x1="2080.4" y1="790.4" x2="2090.8" y2="790.4" stroke="#000" stroke-width="2.1" />
<text x="2122.3" y="803.9" font-size="37.2" text-anchor="start" font-weight="normal" >Ideal</text>
</svg>
</body></html>
